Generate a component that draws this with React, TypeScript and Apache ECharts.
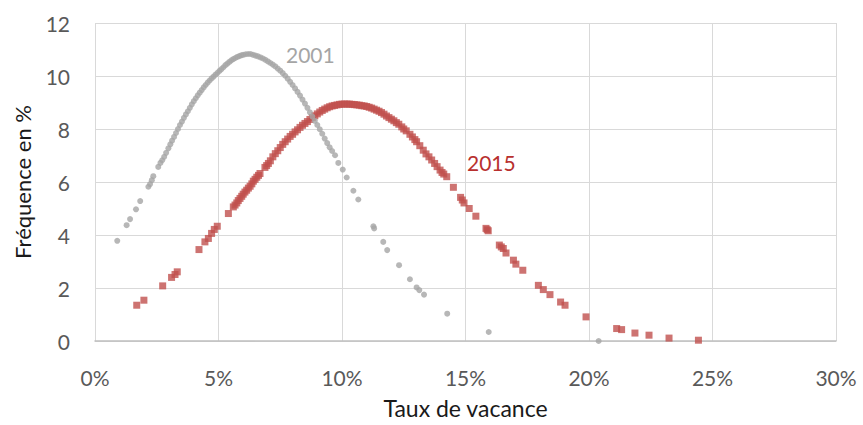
import React, { useEffect, useRef } from "react";
import * as echarts from "echarts";

const xTicks = [0, 5, 10, 15, 20, 25, 30];
const yTicks = [0, 2, 4, 6, 8, 10, 12];
const seriesNames = ["2001", "2015"];

// 2001 — taux de vacance (%), fréquence (%)
const data2001: [number, number][] = [
  [0.90, 3.78], [1.28, 4.37], [1.42, 4.60], [1.66, 4.97], [1.83, 5.28],
  [2.16, 5.82], [2.23, 5.92], [2.30, 6.07], [2.36, 6.22],
  [2.56, 6.57], [2.65, 6.72], [2.72, 6.82], [2.80, 6.95], [2.88, 7.10],
  [2.97, 7.27], [3.05, 7.42], [3.12, 7.56], [3.20, 7.70], [3.28, 7.85],
  [3.36, 8.00], [3.44, 8.15], [3.52, 8.28], [3.60, 8.42], [3.68, 8.55],
  [3.76, 8.67], [3.84, 8.80], [3.92, 8.93], [4.00, 9.05], [4.08, 9.16],
  [4.16, 9.27], [4.24, 9.37], [4.32, 9.47], [4.40, 9.57], [4.48, 9.66],
  [4.56, 9.75], [4.64, 9.83], [4.72, 9.91], [4.80, 9.98], [4.88, 10.05],
  [4.96, 10.12], [5.04, 10.19], [5.12, 10.26], [5.20, 10.33], [5.28, 10.41],
  [5.36, 10.47], [5.44, 10.53], [5.52, 10.59], [5.60, 10.64], [5.68, 10.68],
  [5.76, 10.72], [5.84, 10.75], [5.92, 10.78], [6.00, 10.80], [6.10, 10.82],
  [6.20, 10.83], [6.30, 10.83], [6.40, 10.80], [6.50, 10.77], [6.60, 10.74],
  [6.70, 10.70], [6.80, 10.66], [6.90, 10.61], [7.00, 10.55], [7.10, 10.49],
  [7.20, 10.43], [7.30, 10.36], [7.40, 10.28], [7.50, 10.20], [7.60, 10.11],
  [7.70, 10.01], [7.80, 9.90], [7.90, 9.78], [8.00, 9.66], [8.10, 9.53],
  [8.20, 9.40], [8.30, 9.26], [8.40, 9.11], [8.50, 8.96], [8.60, 8.80],
  [8.70, 8.63], [8.80, 8.47], [8.90, 8.31], [9.00, 8.15], [9.10, 7.99],
  [9.20, 7.82], [9.30, 7.64], [9.40, 7.47], [9.50, 7.31], [9.60, 7.17],
  [9.72, 7.01], [9.85, 6.72], [10.03, 6.47], [10.19, 6.17], [10.46, 5.67],
  [10.66, 5.34], [11.27, 4.33], [11.30, 4.25], [11.67, 3.74], [11.83, 3.43],
  [12.31, 2.86], [12.75, 2.33], [13.02, 2.02], [13.13, 1.92], [13.32, 1.75],
  [14.26, 1.03], [15.94, 0.34], [20.39, 0.0],
];

// 2015 — taux de vacance (%), fréquence (%)
const data2015: [number, number][] = [
  [1.69, 1.35], [1.98, 1.54], [2.74, 2.08], [3.10, 2.40], [3.24, 2.51],
  [3.33, 2.61], [4.21, 3.45], [4.45, 3.74], [4.59, 3.87], [4.72, 4.06],
  [4.83, 4.21], [4.95, 4.33], [5.40, 4.81],
  [5.60, 5.06], [5.67, 5.13], [5.74, 5.21], [5.80, 5.30], [5.87, 5.38],
  [5.94, 5.46], [6.00, 5.54], [6.07, 5.62], [6.14, 5.69], [6.21, 5.77],
  [6.28, 5.84], [6.35, 5.93], [6.41, 6.03], [6.48, 6.10], [6.55, 6.18],
  [6.62, 6.25], [6.68, 6.32], [6.88, 6.55],
  [6.95, 6.62], [7.02, 6.70], [7.10, 6.80], [7.20, 6.95], [7.30, 7.07],
  [7.40, 7.18], [7.50, 7.30], [7.60, 7.42], [7.70, 7.52], [7.80, 7.62],
  [7.90, 7.72], [8.00, 7.80], [8.10, 7.89], [8.20, 7.97], [8.30, 8.06],
  [8.40, 8.14], [8.50, 8.21], [8.60, 8.28], [8.70, 8.36], [8.80, 8.43],
  [8.90, 8.50], [9.00, 8.57], [9.10, 8.64], [9.20, 8.70], [9.30, 8.75],
  [9.40, 8.80], [9.50, 8.84], [9.60, 8.87], [9.70, 8.89], [9.80, 8.91],
  [9.90, 8.93], [10.00, 8.94], [10.10, 8.94], [10.20, 8.94], [10.30, 8.94],
  [10.40, 8.93], [10.50, 8.92], [10.60, 8.91], [10.70, 8.90], [10.80, 8.88],
  [10.90, 8.87], [11.00, 8.85], [11.10, 8.82], [11.20, 8.79], [11.30, 8.75],
  [11.40, 8.71], [11.50, 8.67], [11.60, 8.62], [11.70, 8.56], [11.80, 8.49],
  [11.90, 8.43], [12.00, 8.37], [12.10, 8.31], [12.20, 8.24], [12.30, 8.18],
  [12.42, 8.08], [12.50, 8.00], [12.60, 7.93], [12.75, 7.80], [12.85, 7.70],
  [12.95, 7.60], [13.02, 7.52], [13.15, 7.37], [13.29, 7.20], [13.40, 7.06],
  [13.52, 6.95], [13.63, 6.83], [13.75, 6.70], [13.85, 6.58], [13.97, 6.45],
  [14.05, 6.36], [14.12, 6.30], [14.24, 6.20], [14.51, 5.80], [14.80, 5.42],
  [14.87, 5.32], [14.94, 5.21], [15.15, 5.00], [15.42, 4.71], [15.83, 4.25],
  [15.88, 4.20], [15.92, 4.16], [16.37, 3.62], [16.45, 3.55], [16.53, 3.49],
  [16.64, 3.32], [16.94, 3.05], [17.04, 2.90], [17.32, 2.67], [17.95, 2.10],
  [18.15, 1.94], [18.42, 1.75], [18.85, 1.47], [19.03, 1.35], [19.88, 0.91],
  [21.12, 0.47], [21.32, 0.43], [21.86, 0.30], [22.43, 0.22], [23.24, 0.11],
  [24.43, 0.03],
];

const FONT = "Lato";

export default function App() {
  const ref = useRef<HTMLDivElement>(null);
  useEffect(() => {
    if (!ref.current) return;
    const chart = echarts.init(ref.current, null, { renderer: "svg" });
    chart.setOption({
      animation: false,
      backgroundColor: "#ffffff",
      textStyle: { fontFamily: FONT },
      grid: { left: 95, right: 27, top: 23, bottom: 84, containLabel: false },
      xAxis: {
        type: "value",
        min: xTicks[0],
        max: xTicks[xTicks.length - 1],
        interval: 5,
        name: "Taux de vacance",
        nameLocation: "middle",
        nameGap: 55,
        nameTextStyle: { fontSize: 23, color: "#1a1a1a", fontFamily: FONT },
        axisLine: { show: true, lineStyle: { color: "#bfbfbf", width: 1.5 } },
        axisTick: { show: false },
        axisLabel: {
          formatter: (v: number) => `${v}%`,
          fontSize: 21,
          color: "#595959",
          margin: 26,
          fontFamily: FONT,
        },
        splitLine: { show: true, lineStyle: { color: "#d9d9d9", width: 1 } },
      },
      yAxis: {
        type: "value",
        min: yTicks[0],
        max: yTicks[yTicks.length - 1],
        interval: 2,
        name: "Fréquence en %",
        nameLocation: "middle",
        nameGap: 62,
        nameTextStyle: { fontSize: 22, color: "#1a1a1a", fontFamily: FONT },
        axisLine: { show: false },
        axisTick: { show: false },
        axisLabel: { fontSize: 21, color: "#595959", margin: 25, fontFamily: FONT },
        splitLine: { show: true, lineStyle: { color: "#d9d9d9", width: 1 } },
      },
      graphic: [
        {
          type: "text",
          left: 286,
          top: 44,
          style: { text: seriesNames[0], fontSize: 21, fill: "#a5a5a5", fontFamily: FONT },
        },
        {
          type: "text",
          left: 467,
          top: 152,
          style: { text: seriesNames[1], fontSize: 21, fill: "#b8302e", fontFamily: FONT },
        },
      ],
      series: [
        {
          name: seriesNames[1],
          type: "scatter",
          data: data2015,
          symbol: "rect",
          symbolSize: 7,
          itemStyle: { color: "#c0504d" },
          z: 2,
        },
        {
          name: seriesNames[0],
          type: "scatter",
          data: data2001,
          symbol: "circle",
          symbolSize: 6,
          itemStyle: { color: "#a5a5a5" },
          z: 3,
        },
      ],
    });
    return () => chart.dispose();
  }, []);
  return (
    <div
      ref={ref}
      style={{ position: "fixed", left: 0, top: 0, width: 863, height: 425 }}
    />
  );
}
